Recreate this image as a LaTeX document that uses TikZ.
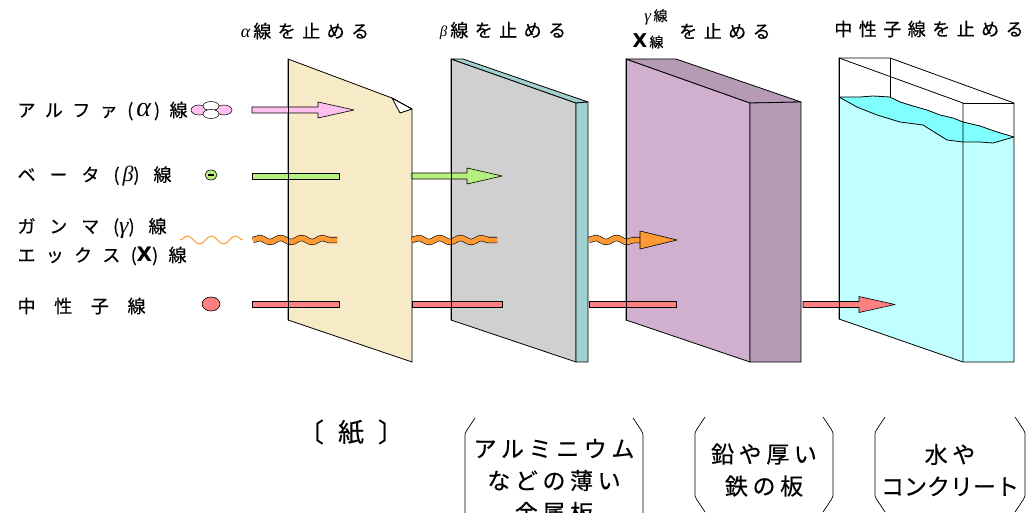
\documentclass[tikz,border=0pt]{standalone}
\usepackage{fontspec}
\newfontfamily\jpfont[LetterSpace=36,FakeBold=0.4]{Noto Sans CJK JP}
\newfontfamily\jpbig[LetterSpace=20,FakeBold=0.4]{Noto Sans CJK JP}
\newfontfamily\jpnarrow[FakeBold=0.4]{Noto Sans CJK JP}
\newfontfamily\xfont{DejaVu Sans}
\newfontfamily\grk{Liberation Serif}
\usetikzlibrary{decorations.pathmorphing}

\definecolor{paperbg}{HTML}{F7EAC6}
\definecolor{alugray}{HTML}{D0D0D0}
\definecolor{aluside}{HTML}{A0D0D0}
\definecolor{leadfront}{HTML}{D0B0CE}
\definecolor{leadside}{HTML}{B59BB5}
\definecolor{waterbody}{HTML}{C0FFFF}
\definecolor{watertop}{HTML}{80FFFF}
\definecolor{alphapink}{HTML}{FFC0F0}
\definecolor{betagreen}{HTML}{B8F080}
\definecolor{gammaorange}{HTML}{FF9933}
\definecolor{neutronred}{HTML}{FF8080}

\newcommand{\gk}[2]{{\fontsize{#1}{#1}\selectfont\grk\itshape #2}}

\tikzset{
  edge/.style={draw=black, line width=0.8pt, line join=round},
  bar/.style={draw=black, line width=0.6pt, line join=round},
  toplabel/.style={font=\fontsize{18}{21}\selectfont\jpfont},
  sidelabel/.style={anchor=west, font=\fontsize{18}{21}\selectfont\jpnarrow},
  matlabel/.style={align=center, font=\fontsize{23}{32}\selectfont\jpbig},
  wave/.style={decorate, decoration={snake, amplitude=2pt, segment length=21pt}},
  gammaband/.style={wave, draw=black, double=gammaorange, double distance=5pt, line width=0.6pt},
}

% block arrow: fill, start, head base, tip, y
\newcommand{\rayarrow}[5]{%
  \draw[bar, fill=#1] (#2,#5-3) -- (#3,#5-3) -- (#3,#5-8) -- (#4,#5)
    -- (#3,#5+8) -- (#3,#5+3) -- (#2,#5+3) -- cycle;}
% stopped ray: fill, start, end, y
\newcommand{\raybar}[4]{\draw[bar, fill=#1] (#2,#4-3) rectangle (#3,#4+3);}
% bracket pair: left, right, top, bottom
\newcommand{\matbracket}[4]{%
  \draw[line width=0.7pt] (#1+10,#3) -- (#1+2,#3+12) .. controls (#1,#3+15) .. (#1,#3+20)
    -- (#1,#4-20) .. controls (#1,#4-15) .. (#1+2,#4-12) -- (#1+10,#4);
  \draw[line width=0.7pt] (#2-10,#3) -- (#2-2,#3+12) .. controls (#2,#3+15) .. (#2,#3+20)
    -- (#2,#4-20) .. controls (#2,#4-15) .. (#2-2,#4-12) -- (#2-10,#4);}

\begin{document}
\begin{tikzpicture}[x=1pt, y=-1pt]
  \useasboundingbox (0,0) rectangle (1035,513);
  \fill[white] (0,0) rectangle (1035,513);

  % paper
  \fill[paperbg] (288,59) -- (392,98) .. controls (396,106) .. (400,113)
    -- (412,109) -- (412,362) -- (288,320) -- cycle;
  \draw[edge, fill=white] (392,98) .. controls (396,106) .. (400,113) -- (412,109) -- cycle;
  \draw[edge] (288,59) -- (392,98) -- (412,109) -- (412,362) -- (288,320) -- cycle;

  % aluminium sheet
  \draw[edge, fill=alugray] (451,59) -- (576,103) -- (576,362) -- (451,320) -- cycle;
  \draw[edge, fill=aluside] (451,59) -- (463,59) -- (588,102) -- (576,103) -- cycle;
  \draw[edge, fill=aluside] (576,103) -- (588,102) -- (588,362) -- (576,362) -- cycle;

  % lead / iron block
  \draw[edge, fill=leadfront] (626,59) -- (750,103) -- (750,362) -- (626,320) -- cycle;
  \draw[edge, fill=leadside] (626,59) -- (676,59) -- (801,102) -- (750,103) -- cycle;
  \draw[edge, fill=leadside] (750,103) -- (801,102) -- (801,362) -- (750,362) -- cycle;

  % water tank
  \fill[waterbody] (839,97) -- (857,107) -- (877,115) -- (900,122) -- (923,125)
    -- (947,140) -- (963,142) -- (980,142) -- (993,143) -- (1014,138)
    -- (1014,362) -- (963,362) -- (839,319) -- cycle;
  \draw[edge, fill=watertop] (839,97) -- (860,97) -- (873,96) -- (890,97) -- (900,102)
    -- (913,106) -- (927,110) -- (940,115) -- (953,118) -- (963,122) -- (980,126)
    -- (997,132) -- (1014,137) -- (993,143) -- (980,142) -- (963,142) -- (947,140)
    -- (923,125) -- (900,122) -- (877,115) -- (857,107) -- cycle;
  \draw[edge] (839,58) -- (839,319) -- (963,362) -- (1014,362) -- (1014,103)
    -- (890,58) -- cycle;
  \draw[edge] (839,58) -- (963,103) -- (963,362);
  \draw[edge] (963,103) -- (1014,103);
  \draw[edge] (890,58) -- (890,97);

  % rays
  \rayarrow{alphapink}{252}{318}{354}{110}
  \raybar{betagreen}{252}{339}{176}
  \rayarrow{betagreen}{412}{467}{502}{176}
  \draw[gammaband] (253,240) -- (337,240);
  \draw[gammaband] (412,240) -- (497,240);
  \draw[gammaband] (589,240) -- (642,240);
  \draw[bar, fill=gammaorange] (640,236) -- (640,231) -- (677,240) -- (640,249) -- (640,244) -- cycle;
  \raybar{neutronred}{252}{339}{304.5}
  \raybar{neutronred}{412}{502}{304.5}
  \raybar{neutronred}{589}{676}{304.5}
  \rayarrow{neutronred}{803}{859}{895}{304.5}

  % front edges over the rays
  \draw[edge] (288,59) -- (288,320);
  \draw[edge] (451,59) -- (451,320);
  \draw[edge] (626,59) -- (626,320);
  \draw[edge] (839,58) -- (839,319);

  % particles
  \draw[fill=alphapink, line width=0.5pt] (199,110) ellipse (8 and 5);
  \draw[fill=alphapink, line width=0.5pt] (224,110) ellipse (8 and 5);
  \draw[fill=white, line width=0.5pt] (211,106) ellipse (8 and 4.5);
  \draw[fill=white, line width=0.5pt] (211,114) ellipse (8 and 4.5);
  \draw[fill=betagreen, line width=0.6pt] (211,175) ellipse (6 and 5);
  \fill (208,174.3) rectangle (214,176);
  \draw[gammaorange, line width=1pt, decorate,
        decoration={snake, amplitude=4pt, segment length=24pt}] (180,240) -- (243,240);
  \draw[fill=neutronred, line width=0.6pt] (211,304) ellipse (9 and 7);

  % labels above
  \node[toplabel] (stopalpha) at (305,31) {\gk{18}{α}\,線を止める};
  \node[toplabel] (stopbeta) at (503,31) {\gk{15}{β}\,線を止める};
  \node[font=\fontsize{14}{16}\selectfont\jpnarrow] (gline) at (656,17) {\gk{17}{γ}\,線};
  \node[font=\fontsize{14}{16}\selectfont\jpnarrow] (xline) at (648,41)
    {{\xfont\bfseries\fontsize{19}{19}\selectfont X}\,線};
  \node[toplabel] (stopgx) at (725,31) {を止める};
  \node[toplabel] (stopn) at (929,29) {中性子線を止める};

  % labels left
  \node[sidelabel] (lalpha) at (14,111)
    {\makebox[170pt][s]{ア\hfill ル\hfill フ\hfill ァ\hfill (\,\gk{28}{α}\,)\hfill 線}};
  \node[sidelabel] (lbeta) at (14,176)
    {\makebox[154pt][s]{ベ\hfill ー\hfill タ\hfill (\,\gk{22}{β})\hfill 線}};
  \node[sidelabel] (lgamma) at (14,228)
    {\makebox[149pt][s]{ガ\hfill ン\hfill マ\hfill (\gk{24}{γ})\hfill 線}};
  \node[sidelabel] (lx) at (14,256)
    {\makebox[169pt][s]{エ\hfill ッ\hfill ク\hfill ス\hfill ({\xfont\bfseries\fontsize{20}{20}\selectfont X})\hfill 線}};
  \node[sidelabel] (lneutron) at (14,306) {\makebox[128pt][s]{中\hfill 性\hfill 子\hfill 線}};

  % labels below
  \node[matlabel, font=\fontsize{26}{32}\selectfont\jpnarrow] (lpaper) at (351,432)
    {\makebox[106pt][s]{〔\hfill 紙\hfill 〕}};
  \node[matlabel] (lalu) at (554,481) {アルミニウム\\などの薄い\\金属板};
  \node[matlabel] (llead) at (764,470) {鉛や厚い\\鉄の板};
  \node[matlabel] (lwater) at (950,470) {水や\\{\jpnarrow コンクリート}};
  \matbracket{465}{643}{418}{545}
  \matbracket{695}{833}{417}{512}
  \matbracket{875}{1025}{417}{512}
\end{tikzpicture}
\end{document}
